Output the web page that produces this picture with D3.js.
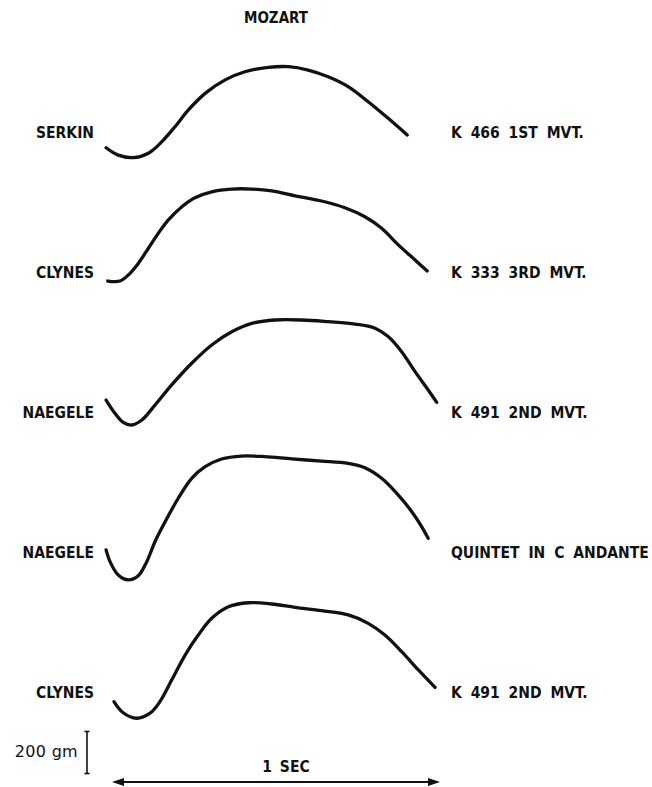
<!DOCTYPE html>
<html>
<head>
<meta charset="utf-8">
<script src="https://cdn.jsdelivr.net/npm/d3@7"></script>
<style>
  html, body { margin: 0; padding: 0; background: #fff; }
  svg { display: block; }
  .lab { font-family: "DejaVu Sans Condensed", "Liberation Sans Narrow", "DejaVu Sans", sans-serif; font-weight: bold; font-size: 15.5px; fill: #111; }
  .scale { font-family: "DejaVu Sans", sans-serif; font-size: 16px; fill: #111; letter-spacing: 0.3px; }
</style>
</head>
<body>
<script>
// ---- DATA (time in seconds, pressure in grams relative to each row's reference line) ----
const title = "MOZART";
const performers = ["SERKIN", "CLYNES", "NAEGELE", "NAEGELE", "CLYNES"];
const works = ["K 466 1ST MVT.", "K 333 3RD MVT.", "K 491 2ND MVT.", "QUINTET IN C ANDANTE", "K 491 2ND MVT."];

const serkinK466 = [[-0.018,-75],[0.019,-110],[0.065,-122],[0.111,-101],[0.152,-46],[0.192,25],[0.233,105],[0.284,184],[0.345,248],[0.405,287],[0.477,308],[0.538,311],[0.598,295],[0.659,263],[0.720,216],[0.781,144],[0.842,65],[0.900,-14]];
const clynesK333 = [[-0.013,-43],[0.024,-43],[0.050,-14],[0.080,41],[0.111,113],[0.141,184],[0.172,248],[0.213,311],[0.253,354],[0.304,382],[0.365,395],[0.426,395],[0.487,386],[0.558,363],[0.639,338],[0.710,306],[0.771,263],[0.822,208],[0.873,129],[0.924,57],[0.961,5]];
const naegeleK491 = [[-0.018,57],[0.009,-6],[0.034,-49],[0.060,-62],[0.091,-38],[0.131,33],[0.182,129],[0.243,232],[0.304,319],[0.365,382],[0.426,422],[0.497,438],[0.578,438],[0.659,430],[0.741,419],[0.802,399],[0.842,359],[0.883,287],[0.924,192],[0.964,105],[0.990,46]];
const naegeleQuintet = [[-0.018,10],[-0.006,-46],[0.019,-110],[0.050,-133],[0.080,-113],[0.106,-46],[0.131,49],[0.162,144],[0.202,256],[0.243,351],[0.284,406],[0.334,443],[0.395,457],[0.466,454],[0.548,443],[0.639,433],[0.720,422],[0.771,401],[0.822,351],[0.873,271],[0.914,192],[0.944,121],[0.964,65]];
const clynesK491 = [[0.006,-46],[0.034,-99],[0.075,-125],[0.116,-101],[0.146,-46],[0.182,57],[0.223,176],[0.263,271],[0.304,351],[0.355,406],[0.416,425],[0.487,419],[0.558,403],[0.639,387],[0.720,367],[0.781,327],[0.832,271],[0.883,192],[0.934,105],[0.985,22]];

const scaleBarGrams = 200;
const scaleBarLabel = "200 gm";
const timeBarSeconds = 1;
const timeBarLabel = "1 SEC";

// ---- LAYOUT ----
const W = 652, H = 787;
const series = [serkinK466, clynesK333, naegeleK491, naegeleQuintet, clynesK491];

const svg = d3.select("body").append("svg").attr("width", W).attr("height", H);

const x = d3.scaleLinear().domain([0, 1]).range([112, 440]);
const row = d3.scalePoint().domain(d3.range(series.length)).range([132, 692]);
const g = d3.scaleLinear().domain([0, 200]).range([0, -42]);

const line = d3.line().curve(d3.curveCatmullRom.alpha(0.5));

svg.append("text").attr("class", "lab")
  .attr("x", x(0.5)).attr("y", 23).attr("text-anchor", "middle")
  .style("font-size", "15px")
  .text(title);

series.forEach((s, i) => {
  svg.append("path")
    .attr("d", line(s.map(d => [x(d[0]), row(i) + g(d[1])])))
    .attr("fill", "none").attr("stroke", "#111")
    .attr("stroke-width", 3.3).attr("stroke-linecap", "round").attr("stroke-linejoin", "round");
  svg.append("text").attr("class", "lab")
    .attr("x", 94).attr("y", row(i) + 6).attr("text-anchor", "end")
    .text(performers[i]);
  svg.append("text").attr("class", "lab")
    .attr("x", 451).attr("y", row(i) + 6).attr("text-anchor", "start")
    .attr("word-spacing", "4px")
    .text(works[i]);
});

// force scale bar
const barX = 87, barBottom = 773.5;
const barTop = barBottom + g(scaleBarGrams);
const sb = svg.append("g").attr("stroke", "#111").attr("stroke-width", 1.6);
sb.append("line").attr("x1", barX).attr("x2", barX).attr("y1", barTop).attr("y2", barBottom);
sb.append("line").attr("x1", barX - 2.5).attr("x2", barX + 2.5).attr("y1", barTop).attr("y2", barTop);
sb.append("line").attr("x1", barX - 2.5).attr("x2", barX + 2.5).attr("y1", barBottom).attr("y2", barBottom);
svg.append("text").attr("class", "scale")
  .attr("x", 78).attr("y", (barTop + barBottom) / 2 + 4).attr("text-anchor", "end")
  .text(scaleBarLabel);

// time arrow
const ay = 782;
const ax0 = x(0), ax1 = x(timeBarSeconds);
svg.append("line").attr("x1", ax0 + 6).attr("x2", ax1 - 6).attr("y1", ay).attr("y2", ay)
  .attr("stroke", "#111").attr("stroke-width", 2);
svg.append("path").attr("d", `M${ax0},${ay} L${ax0 + 12},${ay - 4} L${ax0 + 12},${ay + 4} Z`).attr("fill", "#111");
svg.append("path").attr("d", `M${ax1},${ay} L${ax1 - 12},${ay - 4} L${ax1 - 12},${ay + 4} Z`).attr("fill", "#111");
svg.append("text").attr("class", "lab")
  .attr("x", (ax0 + ax1) / 2 + 10).attr("y", 772).attr("text-anchor", "middle")
  .attr("word-spacing", "3px")
  .text(timeBarLabel);
</script>
</body>
</html>
